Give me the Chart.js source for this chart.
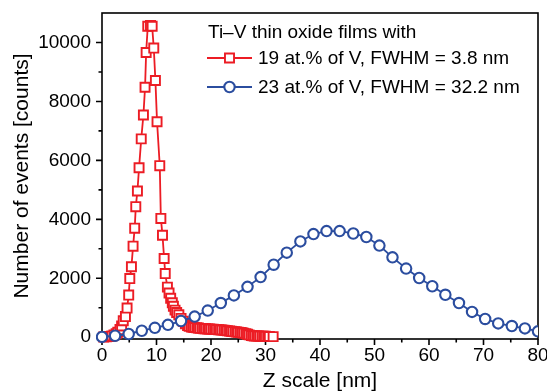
<!DOCTYPE html>
<html>
<head>
<meta charset="utf-8">
<script src="https://cdn.jsdelivr.net/npm/chart.js@4.4.0/dist/chart.umd.min.js"></script>
<style>
  html, body { margin: 0; padding: 0; background: #fff; }
  #wrap { width: 547px; height: 392px; }
</style>
</head>
<body>
<div id="wrap"><canvas id="chart" width="547" height="392"></canvas></div>
<script>
// Data
const legendTitle = 'Ti\u2013V thin oxide films with';
const seriesLabels = ['19 at.% of V, FWHM = 3.8 nm', '23 at.% of V, FWHM = 32.2 nm'];

const zRed = [0.3, 0.8, 1.3, 1.8, 2.2, 2.6, 2.9, 3.3, 3.6, 3.9, 4.3, 4.6, 4.9, 5.1, 5.4, 5.7, 6.0, 6.2, 6.5, 6.8,
  7.2, 7.6, 7.9, 8.1, 8.4, 8.9, 9.2, 9.5, 9.8, 10.1, 10.6, 10.8, 11.1, 11.4, 11.6, 12.0, 12.3, 12.6, 12.9, 13.1,
  13.4, 13.7, 14.1, 14.5, 14.9, 15.3, 15.7, 16.0, 16.4, 16.7, 17.0, 17.4, 17.7, 18.0, 18.4, 18.7, 19.0, 19.4, 19.7, 20.0,
  20.4, 20.7, 21.0, 21.4, 21.7, 22.0, 22.4, 22.7, 23.0, 23.4, 23.7, 24.0, 24.4, 24.7, 25.0, 25.4, 25.7, 26.0, 26.4, 26.7,
  27.0, 27.4, 27.7, 28.0, 28.4, 28.7, 29.0, 29.4, 29.7, 30.0, 30.4, 30.7, 31.4];
const countsRed = [10, 15, 25, 45, 80, 120, 170, 260, 380, 560, 700, 990, 1430, 1990, 2390, 3090, 3700, 4430, 4960, 5750,
  6730, 7540, 8480, 9660, 10550, 10580, 10550, 9810, 8710, 7310, 5820, 4030, 3460, 2670, 2160, 1700, 1500, 1320, 1170, 1050,
  920, 840, 760, 640, 540, 460, 400, 370, 350, 340, 330, 320, 310, 300, 300, 290, 290, 280, 280, 275,
  270, 265, 260, 255, 250, 245, 240, 230, 220, 210, 200, 190, 185, 180, 170, 165, 150, 140, 120, 100,
  80, 60, 50, 45, 40, 40, 35, 35, 30, 30, 25, 25, 20];

const zBlue = [0, 2.4, 4.9, 7.3, 9.7, 12.1, 14.5, 17.0, 19.4, 21.8, 24.2, 26.7, 29.1, 31.5, 33.9, 36.4, 38.8,
  41.2, 43.6, 46.1, 48.5, 50.9, 53.3, 55.8, 58.2, 60.6, 63.0, 65.5, 67.9, 70.3, 72.7, 75.2, 77.6, 80.0];
const countsBlue = [10, 50, 110, 220, 320, 420, 550, 700, 905, 1160, 1420, 1710, 2040, 2460, 2870, 3250, 3500,
  3600, 3600, 3520, 3400, 3110, 2710, 2330, 2010, 1730, 1440, 1160, 860, 620, 470, 380, 300, 200];

const xMajorTicks = [0, 10, 20, 30, 40, 50, 60, 70, 80];
const xMinorTicks = [5, 15, 25, 35, 45, 55, 65, 75];
const yMajorTicks = [0, 2000, 4000, 6000, 8000, 10000];
const yMinorTicks = [1000, 3000, 5000, 7000, 9000];

const RED = '#ec1c24';
const BLUE = '#2b4d9f';
const FONT = "'Liberation Sans', Arial, sans-serif";

// frame and outward ticks
const framePlugin = {
  id: 'frame',
  beforeDatasetsDraw(chart) {
    const { ctx, chartArea: a, scales: { x, y } } = chart;
    ctx.save();
    ctx.strokeStyle = '#000';
    ctx.lineWidth = 1.6;
    ctx.strokeRect(a.left, a.top, a.right - a.left, a.bottom - a.top);
    ctx.beginPath();
    xMajorTicks.forEach(v => { const p = x.getPixelForValue(v); ctx.moveTo(p, a.bottom); ctx.lineTo(p, a.bottom + 6); });
    xMinorTicks.forEach(v => { const p = x.getPixelForValue(v); ctx.moveTo(p, a.bottom); ctx.lineTo(p, a.bottom + 3.5); });
    yMajorTicks.forEach(v => { const p = y.getPixelForValue(v); ctx.moveTo(a.left, p); ctx.lineTo(a.left - 6, p); });
    yMinorTicks.forEach(v => { const p = y.getPixelForValue(v); ctx.moveTo(a.left, p); ctx.lineTo(a.left - 3.5, p); });
    ctx.stroke();
    ctx.restore();
  }
};

// legend drawn inside the plot
const legendPlugin = {
  id: 'insideLegend',
  afterDatasetsDraw(chart) {
    const ctx = chart.ctx;
    ctx.save();
    ctx.font = '19px ' + FONT;
    ctx.fillStyle = '#000';
    ctx.textBaseline = 'middle';
    ctx.fillText(legendTitle, 208, 33);
    const rows = [58, 87];
    chart.data.datasets.slice().sort((a, b) => a.legendIndex - b.legendIndex).forEach((ds, i) => {
      const yy = rows[i];
      ctx.strokeStyle = ds.borderColor;
      ctx.lineWidth = ds.borderWidth;
      ctx.beginPath();
      ctx.moveTo(207, yy);
      ctx.lineTo(252, yy);
      ctx.stroke();
      ctx.fillStyle = '#fff';
      ctx.lineWidth = ds.pointBorderWidth;
      ctx.beginPath();
      if (ds.pointStyle === 'rect') {
        const s = Math.SQRT1_2 * ds.pointRadius;
        ctx.rect(229.5 - s, yy - s, 2 * s, 2 * s);
      } else {
        ctx.arc(229.5, yy, ds.pointRadius, 0, Math.PI * 2);
      }
      ctx.fill();
      ctx.stroke();
      ctx.fillStyle = '#000';
      ctx.fillText(ds.label, 258, yy + 0.5);
    });
    ctx.restore();
  }
};

new Chart(document.getElementById('chart'), {
  type: 'line',
  data: {
    datasets: [
      {
        label: seriesLabels[1],
        legendIndex: 1,
        data: zBlue.map((z, i) => ({ x: z, y: countsBlue[i] })),
        borderColor: BLUE,
        backgroundColor: '#fff',
        borderWidth: 1.8,
        pointStyle: 'circle',
        pointRadius: 5.2,
        pointBorderWidth: 2.1,
        pointBackgroundColor: '#fff',
        pointBorderColor: BLUE,
        tension: 0,
        clip: { left: 6, right: 0, top: 0, bottom: 6 }
      },
      {
        label: seriesLabels[0],
        legendIndex: 0,
        data: zRed.map((z, i) => ({ x: z, y: countsRed[i] })),
        borderColor: RED,
        backgroundColor: '#fff',
        borderWidth: 1.8,
        pointStyle: 'rect',
        pointRadius: 6.4,
        pointBorderWidth: 1.9,
        pointBackgroundColor: '#fff',
        pointBorderColor: RED,
        tension: 0,
        clip: { left: 6, right: 0, top: 0, bottom: 6 }
      }
    ]
  },
  options: {
    responsive: false,
    animation: false,
    layout: { padding: { top: 13, right: 9, left: 0, bottom: 0 } },
    plugins: { legend: { display: false }, tooltip: { enabled: false } },
    scales: {
      x: {
        type: 'linear',
        min: 0,
        max: 80,
        grid: { display: false, drawTicks: false },
        border: { display: false },
        afterBuildTicks: s => { s.ticks = xMajorTicks.map(v => ({ value: v })); },
        afterFit: s => { s.height = 53; s.paddingLeft = 0; s.paddingRight = 0; },
        ticks: { color: '#000', font: { family: FONT, size: 19 }, padding: 5, maxRotation: 0, callback: v => String(v) },
        title: {
          display: true, text: 'Z scale [nm]', color: '#000',
          font: { family: FONT, size: 21, lineHeight: 1 }, padding: { top: 0, bottom: 0 }
        }
      },
      y: {
        type: 'linear',
        min: -60,
        max: 11000,
        grid: { display: false, drawTicks: false },
        border: { display: false },
        afterBuildTicks: s => { s.ticks = yMajorTicks.map(v => ({ value: v })); },
        afterFit: s => { s.width = 102; s.paddingTop = 0; s.paddingBottom = 0; },
        ticks: { color: '#000', font: { family: FONT, size: 19 }, padding: 11, callback: v => String(v) },
        title: {
          display: true, text: 'Number of events [counts]', color: '#000',
          font: { family: FONT, size: 21, lineHeight: 1 }, padding: { top: 12, bottom: 0 }
        }
      }
    }
  },
  plugins: [framePlugin, legendPlugin]
});
</script>
</body>
</html>
